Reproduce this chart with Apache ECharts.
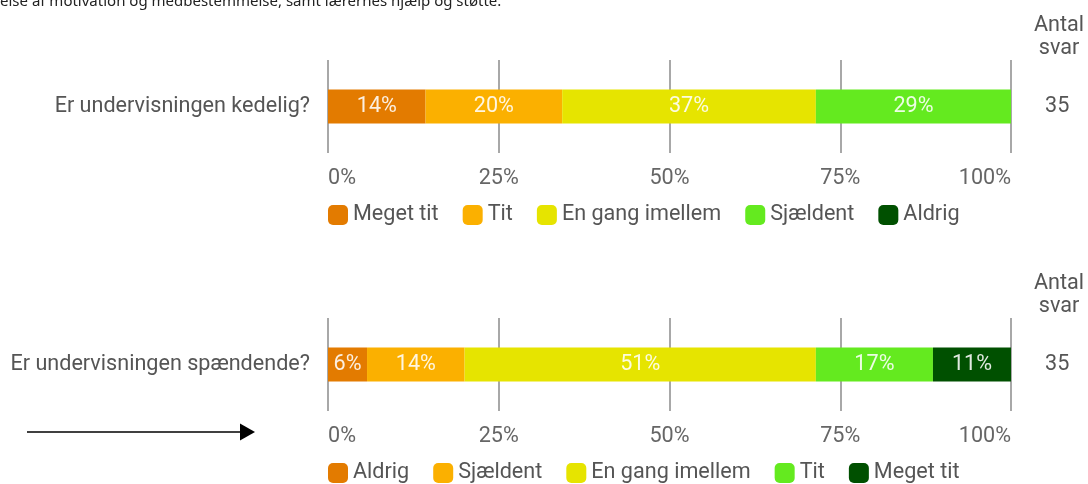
<!DOCTYPE html>
<html>
<head>
<meta charset="utf-8">
<script src="https://cdn.jsdelivr.net/npm/echarts@6/dist/echarts.min.js"></script>
<style>
  html, body { margin: 0; padding: 0; background: #fff; overflow: hidden; }
  #top { position: absolute; left: 0; top: 0; width: 1088px; height: 258px; }
  #bottom { position: absolute; left: 0; top: 258px; width: 1088px; height: 226px; }
</style>
</head>
<body>
<div id="top"></div>
<div id="bottom"></div>
<script>
// answer counts (35 replies per question)
const kedeligQuestion = "Er undervisningen kedelig?";
const kedeligCats = ["Meget tit", "Tit", "En gang imellem", "Sjældent", "Aldrig"];
const kedeligCounts = [5, 7, 13, 10, 0];

const spaendendeQuestion = "Er undervisningen spændende?";
const spaendendeCats = ["Aldrig", "Sjældent", "En gang imellem", "Tit", "Meget tit"];
const spaendendeCounts = [2, 5, 18, 6, 4];

const barColors = ["#e37b00", "#fbb000", "#e6e400", "#64ea1f", "#005000"];
const headerText = "else af motivation og medbestemmelse, samt lærernes hjælp og støtte.";
const answersTitle = "Antal\nsvar";

const font = "Roboto";
const fs = 21.6;

function makeOption(question, cats, counts, extraGraphic) {
  const total = counts.reduce((a, b) => a + b, 0);
  const series = cats.map((name, i) => ({
    name: name,
    type: "bar",
    stack: "all",
    barWidth: 34,
    itemStyle: { color: barColors[i] },
    label: {
      show: counts[i] > 0,
      position: "inside",
      color: "rgba(255,255,255,0.88)",
      fontFamily: font,
      fontSize: fs,
      formatter: () => Math.round(counts[i] / total * 100) + "%"
    },
    data: [counts[i] / total * 100]
  }));

  return {
    animation: false,
    textStyle: { fontFamily: font },
    grid: { left: 328, right: 77, top: 60, height: 93 },
    legend: {
      left: 328,
      top: 204,
      padding: 0,
      icon: "roundRect",
      itemWidth: 20,
      itemHeight: 20,
      itemGap: 24,
      textStyle: { fontFamily: font, fontSize: fs, color: "#555" },
      data: cats
    },
    xAxis: {
      type: "value",
      min: 0,
      max: 100,
      interval: 25,
      axisLine: { show: false },
      axisTick: { show: false },
      splitLine: { show: true, lineStyle: { color: "#a8a8a8", width: 2 } },
      axisLabel: {
        margin: 15,
        fontSize: fs,
        color: "#666",
        formatter: "{value}%",
        alignMinLabel: "left",
        alignMaxLabel: "right"
      }
    },
    yAxis: [
      {
        type: "category",
        data: [question],
        axisLine: { show: false },
        axisTick: { show: false },
        axisLabel: { margin: 18, fontSize: fs, color: "#555" }
      },
      {
        type: "category",
        position: "right",
        data: [String(total)],
        axisLine: { show: false },
        axisTick: { show: false },
        axisLabel: { margin: 34, fontSize: fs, color: "#555" }
      }
    ],
    graphic: [
      {
        type: "text",
        x: 1059,
        y: 14,
        style: {
          text: answersTitle,
          font: fs + "px " + font,
          fill: "#555",
          align: "center",
          lineHeight: 23
        }
      }
    ].concat(extraGraphic),
    series: series
  };
}

const headerGraphic = [{
  type: "text",
  x: 0,
  y: 9,
  style: {
    text: headerText,
    font: "15px 'Noto Sans'",
    fill: "#222",
    verticalAlign: "bottom"
  }
}];

const arrowGraphic = [{
  type: "group",
  children: [
    { type: "line", shape: { x1: 27, y1: 174, x2: 242, y2: 174 }, style: { stroke: "#000", lineWidth: 1.5 } },
    { type: "polygon", shape: { points: [[255, 174], [240, 165.5], [240, 182.5]] }, style: { fill: "#000" } }
  ]
}];

const chartTop = echarts.init(document.getElementById("top"));
chartTop.setOption(makeOption(kedeligQuestion, kedeligCats, kedeligCounts, headerGraphic));

const chartBottom = echarts.init(document.getElementById("bottom"));
chartBottom.setOption(makeOption(spaendendeQuestion, spaendendeCats, spaendendeCounts, arrowGraphic));
</script>
</body>
</html>
